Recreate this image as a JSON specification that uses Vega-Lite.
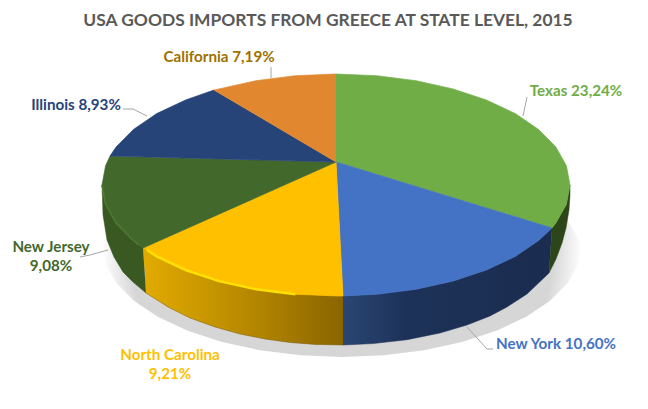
{"$schema":"https://vega.github.io/schema/vega-lite/v6.json","width":648,"height":409,"padding":0,"autosize":"none","background":"white","title":{"text":"USA GOODS IMPORTS FROM GREECE AT STATE LEVEL, 2015","font":"Lato","fontSize":17.4,"fontWeight":"bold","color":"#595959","anchor":"middle","offset":-29,"dx":4},"config":{"view":{"stroke":null}},
"datasets":{
"top":[
{"state":"Texas","i":0,"x":336,"y":162},{"state":"Texas","i":1,"x":336,"y":74},{"state":"Texas","i":2,"x":376.6,"y":75.7},{"state":"Texas","i":3,"x":416,"y":80.7},{"state":"Texas","i":4,"x":453,"y":88.9},{"state":"Texas","i":5,"x":486.4,"y":100},{"state":"Texas","i":6,"x":515.3,"y":113.6},{"state":"Texas","i":7,"x":538.6,"y":129.5},{"state":"Texas","i":8,"x":555.9,"y":147},{"state":"Texas","i":9,"x":566.4,"y":165.7},{"state":"Texas","i":10,"x":570,"y":185},{"state":"Texas","i":11,"x":566.4,"y":204.3},{"state":"Texas","i":12,"x":555.9,"y":223},{"state":"Texas","i":13,"x":552,"y":228},
{"state":"New York","i":0,"x":336,"y":162},{"state":"New York","i":1,"x":552,"y":228},{"state":"New York","i":2,"x":538.6,"y":240.5},{"state":"New York","i":3,"x":515.3,"y":256.4},{"state":"New York","i":4,"x":486.4,"y":270},{"state":"New York","i":5,"x":453,"y":281.1},{"state":"New York","i":6,"x":416,"y":289.3},{"state":"New York","i":7,"x":376.6,"y":294.3},{"state":"New York","i":8,"x":343,"y":296},
{"state":"North Carolina","i":0,"x":336,"y":162},{"state":"North Carolina","i":1,"x":343,"y":296},{"state":"North Carolina","i":2,"x":336,"y":296},{"state":"North Carolina","i":3,"x":295.4,"y":294.3},{"state":"North Carolina","i":4,"x":256,"y":289.3},{"state":"North Carolina","i":5,"x":219,"y":281.1},{"state":"North Carolina","i":6,"x":185.6,"y":270},{"state":"North Carolina","i":7,"x":156.7,"y":256.4},{"state":"North Carolina","i":8,"x":143,"y":248},
{"state":"New Jersey","i":0,"x":336,"y":162},{"state":"New Jersey","i":1,"x":143,"y":248},{"state":"New Jersey","i":2,"x":133.4,"y":240.5},{"state":"New Jersey","i":3,"x":116.1,"y":223},{"state":"New Jersey","i":4,"x":105.6,"y":204.3},{"state":"New Jersey","i":5,"x":102,"y":185},{"state":"New Jersey","i":6,"x":105.6,"y":165.7},{"state":"New Jersey","i":7,"x":110,"y":156},
{"state":"Illinois","i":0,"x":336,"y":162},{"state":"Illinois","i":1,"x":110,"y":156},{"state":"Illinois","i":2,"x":116.1,"y":147},{"state":"Illinois","i":3,"x":133.4,"y":129.5},{"state":"Illinois","i":4,"x":156.7,"y":113.6},{"state":"Illinois","i":5,"x":185.6,"y":100},{"state":"Illinois","i":6,"x":214,"y":90},
{"state":"California","i":0,"x":336,"y":162},{"state":"California","i":1,"x":214,"y":90},{"state":"California","i":2,"x":219,"y":88.9},{"state":"California","i":3,"x":256,"y":80.7},{"state":"California","i":4,"x":295.4,"y":75.7},{"state":"California","i":5,"x":336,"y":74}
],
"side":[
{"state":"North Carolina","i":0,"x":143,"y":248},{"state":"North Carolina","i":1,"x":156.7,"y":256.4},{"state":"North Carolina","i":2,"x":185.6,"y":270},{"state":"North Carolina","i":3,"x":219,"y":281.1},{"state":"North Carolina","i":4,"x":256,"y":289.3},{"state":"North Carolina","i":5,"x":295.4,"y":294.3},{"state":"North Carolina","i":6,"x":336,"y":296},{"state":"North Carolina","i":7,"x":343,"y":296},{"state":"North Carolina","i":8,"x":343,"y":345},{"state":"North Carolina","i":9,"x":315,"y":344.4},{"state":"North Carolina","i":10,"x":290,"y":342.5},{"state":"North Carolina","i":11,"x":265,"y":339},{"state":"North Carolina","i":12,"x":240,"y":334},{"state":"North Carolina","i":13,"x":215,"y":327},{"state":"North Carolina","i":14,"x":190,"y":318},{"state":"North Carolina","i":15,"x":168,"y":307},{"state":"North Carolina","i":16,"x":146,"y":293},
{"state":"New York","i":0,"x":343,"y":296},{"state":"New York","i":1,"x":376.6,"y":294.3},{"state":"New York","i":2,"x":416,"y":289.3},{"state":"New York","i":3,"x":453,"y":281.1},{"state":"New York","i":4,"x":486.4,"y":270},{"state":"New York","i":5,"x":515.3,"y":256.4},{"state":"New York","i":6,"x":538.6,"y":240.5},{"state":"New York","i":7,"x":552,"y":228},{"state":"New York","i":8,"x":549,"y":273},{"state":"New York","i":9,"x":527,"y":294},{"state":"New York","i":10,"x":507,"y":307},{"state":"New York","i":11,"x":490,"y":316},{"state":"New York","i":12,"x":467,"y":325},{"state":"New York","i":13,"x":440,"y":333},{"state":"New York","i":14,"x":407,"y":339.7},{"state":"New York","i":15,"x":373,"y":343.6},{"state":"New York","i":16,"x":343,"y":345},
{"state":"Texas","i":0,"x":552,"y":228},{"state":"Texas","i":1,"x":555.9,"y":223},{"state":"Texas","i":2,"x":566.4,"y":204.3},{"state":"Texas","i":3,"x":570,"y":185},{"state":"Texas","i":4,"x":570,"y":195},{"state":"Texas","i":5,"x":569,"y":210},{"state":"Texas","i":6,"x":566,"y":228},{"state":"Texas","i":7,"x":562,"y":243},{"state":"Texas","i":8,"x":556,"y":259},{"state":"Texas","i":9,"x":549,"y":273},
{"state":"New Jersey","i":0,"x":143,"y":248},{"state":"New Jersey","i":1,"x":133.4,"y":240.5},{"state":"New Jersey","i":2,"x":116.1,"y":223},{"state":"New Jersey","i":3,"x":105.6,"y":204.3},{"state":"New Jersey","i":4,"x":102,"y":185},{"state":"New Jersey","i":5,"x":103,"y":215},{"state":"New Jersey","i":6,"x":107,"y":240},{"state":"New Jersey","i":7,"x":114,"y":257},{"state":"New Jersey","i":8,"x":123,"y":272},{"state":"New Jersey","i":9,"x":133,"y":282},{"state":"New Jersey","i":10,"x":146,"y":293}
],
"shadow":[
{"i":0,"x":582,"y":245},{"i":1,"x":578.4,"y":264.4},{"i":2,"x":567.6,"y":283.3},{"i":3,"x":549.8,"y":301},{"i":4,"x":525.8,"y":317},{"i":5,"x":496.3,"y":330.8},{"i":6,"x":462,"y":342},{"i":7,"x":424.1,"y":350.2},{"i":8,"x":383.7,"y":355.3},{"i":9,"x":342,"y":357},{"i":10,"x":300.3,"y":355.3},{"i":11,"x":259.9,"y":350.2},{"i":12,"x":222,"y":342},{"i":13,"x":187.7,"y":330.8},{"i":14,"x":158.2,"y":317},{"i":15,"x":134.2,"y":301},{"i":16,"x":116.4,"y":283.3},{"i":17,"x":105.6,"y":264.4},{"i":18,"x":102,"y":245},{"i":19,"x":134.2,"y":189},{"i":20,"x":222,"y":148},{"i":21,"x":342,"y":133},{"i":22,"x":462,"y":148},{"i":23,"x":549.8,"y":189}
],
"rim":[
{"state":"North Carolina","i":0,"x":147,"y":250},{"state":"North Carolina","i":1,"x":156.7,"y":256.4},{"state":"North Carolina","i":2,"x":185.6,"y":270},{"state":"North Carolina","i":3,"x":219,"y":281.1},{"state":"North Carolina","i":4,"x":256,"y":289.3},{"state":"North Carolina","i":5,"x":295.4,"y":294.3},
{"state":"New Jersey","i":0,"x":139,"y":245},{"state":"New Jersey","i":1,"x":133.4,"y":240.5},{"state":"New Jersey","i":2,"x":116.1,"y":223},{"state":"New Jersey","i":3,"x":105.6,"y":204.3},{"state":"New Jersey","i":4,"x":102,"y":185}
],
"leaders":[
{"state":"California","i":0,"x":271,"y":67},{"state":"California","i":1,"x":271,"y":78},
{"state":"Illinois","i":0,"x":123,"y":109},{"state":"Illinois","i":1,"x":133,"y":109},{"state":"Illinois","i":2,"x":147,"y":116},
{"state":"New York","i":0,"x":467,"y":327},{"state":"New York","i":1,"x":487,"y":349},{"state":"New York","i":2,"x":493,"y":349},
{"state":"New Jersey","i":0,"x":80,"y":257},{"state":"New Jersey","i":1,"x":90,"y":255},{"state":"New Jersey","i":2,"x":108,"y":250},
{"state":"Texas","i":0,"x":527,"y":97},{"state":"Texas","i":1,"x":523,"y":116}
],
"labels":[
{"state":"Texas","share":23.24,"label":"Texas 23,24%","x":576,"y":91},
{"state":"New York","share":10.6,"label":"New York 10,60%","x":556,"y":344},
{"state":"North Carolina","share":9.21,"label":"North Carolina\n9,21%","x":170,"y":355},
{"state":"New Jersey","share":9.08,"label":"New Jersey\n9,08%","x":51,"y":247},
{"state":"Illinois","share":8.93,"label":"Illinois 8,93%","x":76,"y":105},
{"state":"California","share":7.19,"label":"California 7,19%","x":219,"y":57}
]},
"encoding":{"x":{"field":"x","type":"quantitative","axis":null,"scale":{"domain":[0,648],"nice":false,"zero":false}},"y":{"field":"y","type":"quantitative","axis":null,"scale":{"domain":[409,0],"nice":false,"zero":false}}},
"layer":[
{"data":{"name":"shadow"},"mark":{"type":"line","stroke":null,"fill":{"gradient":"radial","stops":[{"offset":0,"color":"#d6d6d6"},{"offset":0.88,"color":"#d6d6d6"},{"offset":1,"color":"#ffffff"}]}},"encoding":{"order":{"field":"i","type":"quantitative"}}},
{"data":{"name":"side"},"transform":[{"filter":"datum.state==='North Carolina'"}],"mark":{"type":"line","stroke":"#7a5a00","strokeWidth":0.5,"fill":{"gradient":"linear","x1":0,"y1":0,"x2":1,"y2":0,"stops":[{"offset":0,"color":"#e2ab00"},{"offset":0.5,"color":"#b98a00"},{"offset":1,"color":"#8a6500"}]}},"encoding":{"order":{"field":"i","type":"quantitative"}}},
{"data":{"name":"side"},"transform":[{"filter":"datum.state==='New York'"}],"mark":{"type":"line","stroke":"#1a2c4f","strokeWidth":0.5,"fill":{"gradient":"linear","x1":0,"y1":0,"x2":1,"y2":0,"stops":[{"offset":0,"color":"#2a4674"},{"offset":0.3,"color":"#1d3259"},{"offset":1,"color":"#1a2c4f"}]}},"encoding":{"order":{"field":"i","type":"quantitative"}}},
{"data":{"name":"side"},"transform":[{"filter":"datum.state==='Texas'"}],"mark":{"type":"line","stroke":"#2c4519","strokeWidth":0.5,"fill":"#2c4519"},"encoding":{"order":{"field":"i","type":"quantitative"}}},
{"data":{"name":"side"},"transform":[{"filter":"datum.state==='New Jersey'"}],"mark":{"type":"line","stroke":"#375420","strokeWidth":0.5,"fill":"#395822"},"encoding":{"order":{"field":"i","type":"quantitative"}}},
{"data":{"name":"top"},"mark":{"type":"line","strokeWidth":0.7},"encoding":{"order":{"field":"i","type":"quantitative"},
"fill":{"field":"state","type":"nominal","legend":null,"scale":{"domain":["Texas","New York","North Carolina","New Jersey","Illinois","California"],"range":["#70AD47","#4472C4","#FFC000","#43682B","#264478","#E0872F"]}},
"stroke":{"field":"state","type":"nominal","legend":null,"scale":{"domain":["Texas","New York","North Carolina","New Jersey","Illinois","California"],"range":["#70AD47","#4472C4","#FFC000","#43682B","#264478","#E0872F"]}}}},
{"data":{"name":"rim"},"transform":[{"filter":"datum.state==='North Carolina'"}],"mark":{"type":"line","stroke":"#FFE000","strokeWidth":2.5},"encoding":{"order":{"field":"i","type":"quantitative"}}},
{"data":{"name":"rim"},"transform":[{"filter":"datum.state==='New Jersey'"}],"mark":{"type":"line","stroke":"#4f7a33","strokeWidth":1.5},"encoding":{"order":{"field":"i","type":"quantitative"}}},
{"data":{"name":"leaders"},"mark":{"type":"line","stroke":"#a6a6a6","strokeWidth":1},"encoding":{"detail":{"field":"state"},"order":{"field":"i","type":"quantitative"}}},
{"data":{"name":"labels"},"mark":{"type":"text","font":"Lato","fontSize":15.2,"fontWeight":"bold","lineBreak":"\n","lineHeight":19,"baseline":"middle","align":"center"},"encoding":{"text":{"field":"label"},"color":{"field":"state","type":"nominal","legend":null,"scale":{"domain":["Texas","New York","North Carolina","New Jersey","Illinois","California"],"range":["#70AD47","#4472C4","#FFC000","#43682B","#264478","#9E7100"]}}}}
]}
